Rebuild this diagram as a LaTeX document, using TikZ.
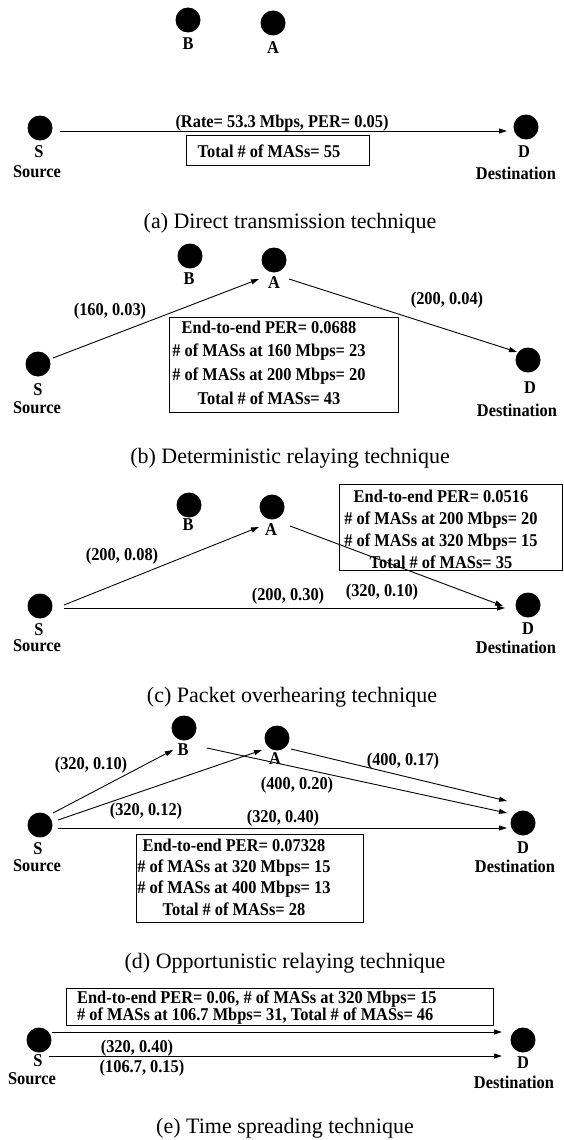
\documentclass[tikz,border=0pt]{standalone}
\usepackage{fontspec}
\setmainfont{Liberation Serif}
\newfontfamily\lblfont[FakeStretch=0.91]{Liberation Serif}
\usetikzlibrary{arrows.meta,calc}
\tikzset{
  dot/.style={circle, fill=black, minimum size=25pt, inner sep=0pt},
  lbl/.style={font=\lblfont\bfseries\fontsize{18}{19}\selectfont, inner sep=0pt},
  captxt/.style={font=\fontsize{22}{26}\selectfont, inner sep=0pt},
  arr/.style={-{Triangle[length=8pt,width=5pt]}, line width=0.9pt},
  boxst/.style={draw, line width=1pt, inner sep=0pt, rectangle},
}
\begin{document}
\begin{tikzpicture}[x=1pt,y=-1pt]
\useasboundingbox[fill=white] (0,0) rectangle (564,1140);

% ---------------- (a) ----------------
\node[dot] (aB) at (188,20) {};
\node[lbl] (aBl) at (188,44) {B};
\node[dot] (aA) at (273,23) {};
\node[lbl] (aAl) at (273,48) {A};
\node[dot] (aS) at (40,128) {};
\node[lbl] (aSl) at (39,152) {S};
\node[lbl] (aSrc) at (37,172) {Source};
\node[dot] (aD) at (526,127) {};
\node[lbl] (aDl) at (524,152) {D};
\node[lbl] (aDst) at (516,173) {Destination};
\coordinate (aSo) at (60,131);
\coordinate (aDi) at (507,131);
\draw[arr] (aSo) -- (aDi);
\node[lbl] (aRate) at (282,123) {(Rate= 53.3 Mbps, PER= 0.05)};
\node[boxst, minimum width=183pt, minimum height=30pt] (aBox) at (277.5,150) {};
\node[lbl] (aTxt) at (269,151) {Total \# of MASs= 55};
\node[captxt] (aCap) at (290,223) {(a) Direct transmission technique};

% ---------------- (b) ----------------
\node[dot] (bB) at (190,256) {};
\node[lbl] (bBl) at (189,279) {B};
\node[dot] (bA) at (274,260) {};
\node[lbl] (bAl) at (274,283) {A};
\node[dot] (bS) at (38,364) {};
\node[lbl] (bSl) at (38,390) {S};
\node[lbl] (bSrc) at (37,408) {Source};
\node[dot] (bD) at (528,360) {};
\node[lbl] (bDl) at (530,388) {D};
\node[lbl] (bDst) at (517,410) {Destination};
\coordinate (bSo) at (53,358);
\coordinate (bAi) at (259,279);
\coordinate (bAo) at (289,279);
\coordinate (bDi) at (517,352);
\draw[arr] (bSo) -- (bAi);
\draw[arr] (bAo) -- (bDi);
\node[lbl] (bL1) at (110,311) {(160, 0.03)};
\node[lbl] (bL2) at (447,300) {(200, 0.04)};
\node[boxst, minimum width=229pt, minimum height=95pt] (bBox) at (283.5,364.5) {};
\node[lbl, align=center, font=\lblfont\bfseries\fontsize{18}{23.7}\selectfont] (bTxt) at (269,362.5)
  {End-to-end PER= 0.0688\\ \# of MASs at 160 Mbps= 23\\ \# of MASs at 200 Mbps= 20\\ Total \# of MASs= 43};
\node[captxt] (bCap) at (290,458) {(b) Deterministic relaying technique};

% ---------------- (c) ----------------
\node[dot] (cB) at (189,505) {};
\node[lbl] (cBl) at (188,525) {B};
\node[dot] (cA) at (272,507) {};
\node[lbl] (cAl) at (271,530) {A};
\node[dot] (cS) at (40,606) {};
\node[lbl] (cSl) at (39,630) {S};
\node[lbl] (cSrc) at (37,646) {Source};
\node[dot] (cD) at (528,605) {};
\node[lbl] (cDl) at (528,629) {D};
\node[lbl] (cDst) at (516,647) {Destination};
\node[boxst, minimum width=223.5pt, minimum height=86pt] (cBox) at (450.75,527.5) {};
\node[lbl, align=center, font=\lblfont\bfseries\fontsize{18}{22}\selectfont] (cTxt) at (441,529)
  {End-to-end PER= 0.0516\\ \# of MASs at 200 Mbps= 20\\ \# of MASs at 320 Mbps= 15\\ Total \# of MASs= 35};
\coordinate (cSo1) at (64,605);
\coordinate (cAi) at (259,527);
\coordinate (cSo2) at (64,608);
\coordinate (cDi1) at (505,608);
\coordinate (cAo) at (290,526);
\coordinate (cDi2) at (503,606);
\draw[arr] (cSo1) -- (cAi);
\draw[arr] (cSo2) -- (cDi1);
\draw[arr] (cAo) -- (cDi2);
\node[lbl] (cL1) at (122,556) {(200, 0.08)};
\node[lbl] (cL2) at (288,596) {(200, 0.30)};
\node[lbl] (cL3) at (382,592) {(320, 0.10)};
\node[captxt] (cCap) at (292,697) {(c) Packet overhearing technique};

% ---------------- (d) ----------------
\node[dot] (dB) at (184,728) {};
\node[lbl] (dBl) at (183,750) {B};
\node[dot] (dA) at (277,738) {};
\node[lbl] (dAl) at (275,759) {A};
\node[dot] (dS) at (40,825) {};
\node[lbl] (dSl) at (38,849) {S};
\node[lbl] (dSrc) at (37,866) {Source};
\node[dot] (dD) at (523,823) {};
\node[lbl] (dDl) at (523,848) {D};
\node[lbl] (dDst) at (515,866) {Destination};
\coordinate (dSo1) at (53,813);
\coordinate (dBi) at (173,750);
\coordinate (dSo2) at (58,820);
\coordinate (dAi) at (262,750);
\coordinate (dSo3) at (58,828);
\coordinate (dDi3) at (507,828);
\coordinate (dBo) at (207,748);
\coordinate (dDi2) at (507,813);
\coordinate (dAo) at (291,749);
\coordinate (dDi1) at (507,801);
\draw[arr] (dSo1) -- (dBi);
\draw[arr] (dSo2) -- (dAi);
\draw[arr] (dSo3) -- (dDi3);
\draw[arr] (dBo) -- (dDi2);
\draw[arr] (dAo) -- (dDi1);
\node[lbl] (dL1) at (91,765) {(320, 0.10)};
\node[lbl] (dL2) at (146,811) {(320, 0.12)};
\node[lbl] (dL3) at (283,818) {(320, 0.40)};
\node[lbl] (dL4) at (403,761) {(400, 0.17)};
\node[lbl] (dL5) at (297,785) {(400, 0.20)};
\node[boxst, minimum width=227pt, minimum height=88pt] (dBox) at (249.5,878) {};
\node[lbl, align=center, font=\lblfont\bfseries\fontsize{18}{21.3}\selectfont] (dTxt) at (234,877)
  {End-to-end PER= 0.07328\\ \# of MASs at 320 Mbps= 15\\ \# of MASs at 400 Mbps= 13\\ Total \# of MASs= 28};
\node[captxt] (dCap) at (285,963) {(d) Opportunistic relaying technique};

% ---------------- (e) ----------------
\node[dot] (eS) at (39,1040) {};
\node[lbl] (eSl) at (38,1061) {S};
\node[lbl] (eSrc) at (32,1079) {Source};
\node[dot] (eD) at (523,1040) {};
\node[lbl] (eDl) at (523,1063) {D};
\node[lbl] (eDst) at (514,1082) {Destination};
\node[boxst, minimum width=427pt, minimum height=37pt] (eBox) at (279.5,1006.5) {};
\node[lbl, align=left, anchor=west, font=\lblfont\bfseries\fontsize{18}{17.5}\selectfont] (eTxt) at (77,1007.5)
  {End-to-end PER= 0.06, \# of MASs at 320 Mbps= 15\\ \# of MASs at 106.7 Mbps= 31, Total \# of MASs= 46};
\coordinate (eSo1) at (52,1032);
\coordinate (eDi1) at (502,1032);
\coordinate (eSo2) at (49,1056);
\coordinate (eDi2) at (502,1056);
\draw[arr] (eSo1) -- (eDi1);
\draw[arr] (eSo2) -- (eDi2);
\node[lbl] (eL1) at (137,1048) {(320, 0.40)};
\node[lbl] (eL2) at (142,1068) {(106.7, 0.15)};
\node[captxt] (eCap) at (285,1128) {(e) Time spreading technique};
\end{tikzpicture}
\end{document}
